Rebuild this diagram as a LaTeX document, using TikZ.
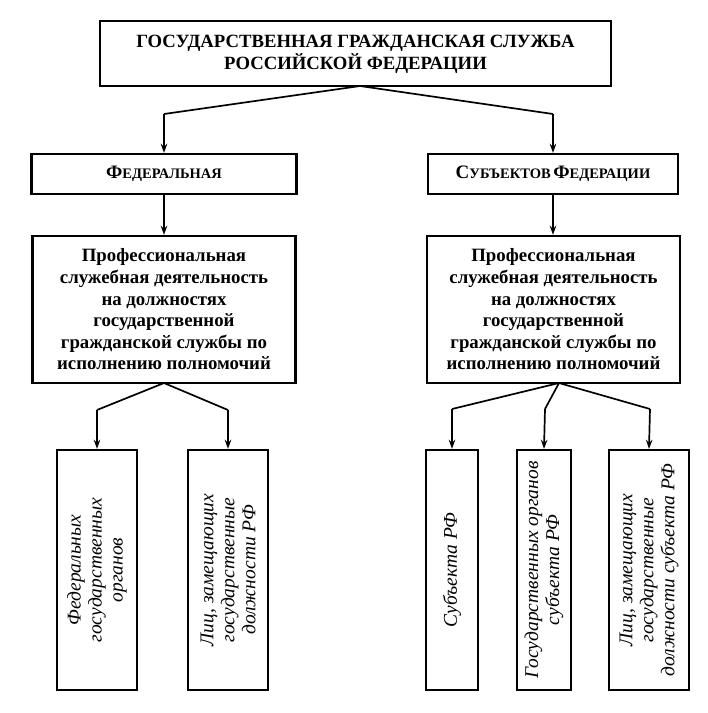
\documentclass[tikz,border=0pt]{standalone}
\usepackage{fontspec}
\setmainfont{Liberation Serif}
\usetikzlibrary{arrows.meta,calc}
\newcommand\SCbig[1]{{\fontsize{19}{22}\selectfont #1}}
\newcommand\SCsmall[1]{{\fontsize{14.5}{17}\selectfont #1}}
\begin{document}
\begin{tikzpicture}[x=1pt,y=-1pt,
  boxst/.style={draw,line width=2.4pt,inner sep=0pt},
  headtext/.style={font=\fontsize{18.7}{21.5}\selectfont\bfseries,align=center},
  proftext/.style={font=\fontsize{18.8}{21.6}\selectfont\bfseries,align=center},
  vtext/.style={rotate=90,font=\fontsize{19.5}{21}\selectfont\itshape,align=center},
  conn/.style={line width=1.7pt},
  arr/.style={line width=1.7pt,-{Stealth[length=9pt,width=6.5pt]}}]
\useasboundingbox (0,0) rectangle (708,713);
% top
\node[boxst,minimum width=511pt,minimum height=65pt] (gs) at (355.5,53.5) {};
\node[headtext] (gst) at ($(gs.center)+(0,1)$) {ГОСУДАРСТВЕННАЯ ГРАЖДАНСКАЯ СЛУЖБА\\РОССИЙСКОЙ ФЕДЕРАЦИИ};
% level 2
\node[boxst,minimum width=265pt,minimum height=40pt] (fed) at (164,174) {};
\node[font=\bfseries] (fedt) at (fed.center) {\SCbig{Ф}\SCsmall{ЕДЕРАЛЬНАЯ}};
\node[boxst,minimum width=250pt,minimum height=40pt] (sub) at (553,174) {};
\node[font=\bfseries] (subt) at (sub.center) {\SCbig{С}\SCsmall{УБЪЕКТОВ} \SCbig{Ф}\SCsmall{ЕДЕРАЦИИ}};
% level 3
\node[boxst,minimum width=263pt,minimum height=147pt] (p1) at (164,309.5) {};
\node[proftext] (p1t) at (p1.center) {Профессиональная\\служебная деятельность\\на должностях\\государственной\\гражданской службы по\\исполнению полномочий};
\node[boxst,minimum width=253pt,minimum height=147pt] (p2) at (553.5,309.5) {};
\node[proftext] (p2t) at (p2.center) {Профессиональная\\служебная деятельность\\на должностях\\государственной\\гражданской службы по\\исполнению полномочий};
% bottom
\node[boxst,minimum width=80pt,minimum height=240pt] (bA) at (97,570) {};
\node[vtext] (tA) at (bA.center) {Федеральных\\государственных\\органов};
\node[boxst,minimum width=80pt,minimum height=240pt] (bB) at (228,570) {};
\node[vtext] (tB) at (bB.center) {Лиц, замещающих\\государственные\\должности РФ};
\node[boxst,minimum width=52pt,minimum height=240pt] (bC) at (452,570) {};
\node[vtext] (tC) at (bC.center) {Субъекта РФ};
\node[boxst,minimum width=54pt,minimum height=240pt] (bD) at (544,570) {};
\node[vtext] (tD) at (bD.center) {Государственных органов\\субъекта РФ};
\node[boxst,minimum width=80pt,minimum height=240pt] (bE) at (649,570) {};
\node[vtext] (tE) at (bE.center) {Лиц, замещающих\\государственные\\должности субъекта РФ};
% connectors
\coordinate (a0) at (360,86);
\coordinate (c0l) at (164,114);
\coordinate (c0r) at (553,114);
\draw[conn] (c0l) -- (a0) -- (c0r);
\draw[arr] (c0l) -- (fed.north -| c0l);
\draw[arr] (c0r) -- (sub.north -| c0r);
\draw[arr] (fed.south) -- (p1.north -| fed.south);
\draw[arr] (sub.south) -- (p2.north -| sub.south);
\coordinate (a1) at (164,383);
\coordinate (c1a) at (97,410);
\coordinate (c1b) at (228,410);
\draw[conn] (c1a) -- (a1) -- (c1b);
\draw[arr] (c1a) -- (bA.north);
\draw[arr] (c1b) -- (bB.north);
\coordinate (a2) at (559,383);
\coordinate (c2a) at (452,409);
\coordinate (c2b) at (545,409);
\coordinate (c2c) at (650,409);
\draw[conn] (c2a) -- (a2) -- (c2c);
\draw[conn] (a2) -- (c2b);
\draw[arr] (c2a) -- (bC.north);
\draw[arr] (c2b) -- (bD.north);
\draw[arr] (c2c) -- (bE.north);
\end{tikzpicture}
\end{document}
